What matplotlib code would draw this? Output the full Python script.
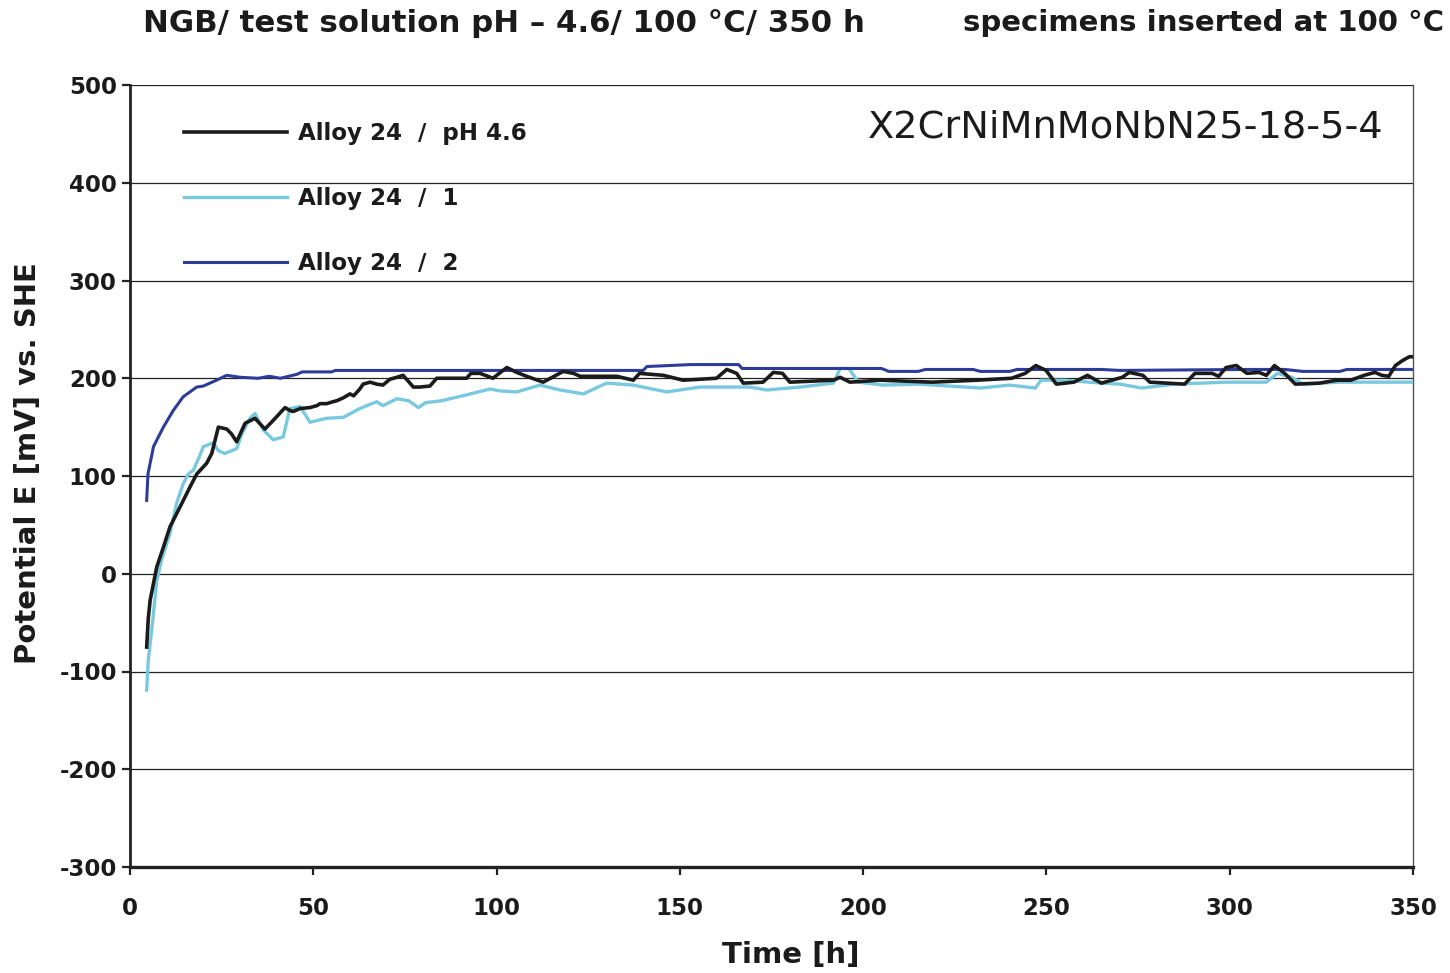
import matplotlib
matplotlib.use("Agg")
import matplotlib.pyplot as plt
from matplotlib.lines import Line2D

plt.rcParams['font.family'] = ['DejaVu Sans']
plt.rcParams['axes.unicode_minus'] = False

# ---------------- data ----------------
black_t = [4.55, 5.0, 5.5, 7.3, 9.1, 10.9, 13.6, 16.4, 18.2, 20.9, 22.3, 24.1, 26.4, 27.7, 29.1,
           31.4, 34.1, 36.8, 39.1, 42.3, 43.6, 44.5, 46.4, 49.1, 51, 51.8, 53.6, 55.4, 56.4, 58.2,
           60, 61, 62.7, 63.6, 65.5, 67.3, 69, 70.9, 72.8, 74.5,
           77.3, 79, 81.8, 83.7, 91.8, 93, 95.5, 99, 102.8, 105.5, 108.2, 112.7, 118.2, 121, 122.8,
           132.8, 137.3, 139, 145.5, 150.9, 160, 162.8, 165.5, 167.3, 172.7, 175.5, 178, 180, 191.9,
           193.7, 196.4, 204.6, 218.8, 231, 240.5, 244.2, 247.1, 249.9, 252.7, 257.5, 261.2, 265,
           270.7, 272.6, 276.3, 278.2, 287.7, 290.5, 295.2, 297, 299, 301.8, 304.7, 308, 310, 312.2,
           315, 317.9, 324.5, 329.2, 333, 336.7, 339.6, 341.5, 343.4, 345.2, 347.1, 349, 350]
black_e = [-75, -45, -27, 7, 27, 48, 68, 89, 102, 113, 123, 150, 148, 143, 135,
           154, 159, 148, 157, 170, 167, 166, 169, 170, 172, 174, 174, 176, 177, 180,
           184, 182, 189, 194, 196, 194, 193, 199, 201, 203,
           191, 191, 192, 200, 200, 205, 205, 200, 211, 206, 202, 196, 207, 205, 202,
           202, 198, 205, 203, 198, 200, 209, 205, 195, 196, 206, 205, 196, 198,
           201, 196, 198, 196, 198, 200, 205, 213, 208, 194, 196, 203, 195,
           201, 206, 203, 196, 194, 205, 205, 202, 211, 213, 205, 206, 203, 213,
           205, 194, 195, 198, 198, 203, 206, 203, 202, 213, 218, 222, 222]

cyan_t = [4.55, 5.0, 6.2, 7.3, 8.6, 10.9, 12.7, 14.5, 15.9, 17.3, 18.6, 20, 22.7, 24.1, 25.9,
          29.1, 30.5, 32.7, 34.1, 36.4, 39.1, 41.8, 43.6, 46.4, 49.1, 53.6, 58.2, 62.7, 67.3, 69,
          72.8, 76, 78.7, 80.6, 85, 91.8, 98.2, 101, 105.5, 111.8, 117.3, 123.7, 130, 137.3, 146.4,
          155.5, 169, 173.7, 182.8, 191.9, 193.7, 196.1, 198.7, 205.5, 215, 232, 240, 247, 248.5,
          255, 265, 270, 276, 285, 299, 310, 313, 317, 320, 330, 350]
cyan_e = [-119, -88, -48, -7, 14, 41, 72, 92, 102, 106, 117, 130, 134, 126, 123,
          128, 143, 159, 164, 147, 137, 140, 169, 171, 155, 159, 160, 169, 176, 172,
          179, 177, 170, 175, 177, 183, 189, 187, 186, 193, 188, 184, 195, 193, 186,
          191, 191, 188, 191, 195, 210, 210, 196, 193, 194, 190, 193, 190, 198,
          198, 195, 194, 190, 194, 196, 196, 205, 201, 194, 196, 196]

blue_t = [4.55, 4.9, 6.4, 9.1, 11.8, 14.5, 18.2, 20, 23.6, 26.4, 30, 35, 38, 41, 45.5, 47, 55, 56,
          140, 141, 153, 166, 167, 205, 207, 215, 217, 230, 232, 240, 242, 265, 270, 305, 315, 320,
          330, 332, 350]
blue_e = [75, 102, 130, 150, 167, 181, 191, 192, 198, 203, 201, 200, 202, 200, 204, 206.5, 206.5, 208,
          208, 212, 214, 214, 210, 210, 207, 207, 209, 209, 207, 207, 209, 209, 208, 209, 209, 207,
          207, 209, 209]

series_labels = ["Alloy 24  /  pH 4.6", "Alloy 24  /  1", "Alloy 24  /  2"]
x_ticks = [0, 50, 100, 150, 200, 250, 300, 350]
y_ticks = [-300, -200, -100, 0, 100, 200, 300, 400, 500]

c_black = "#1b1b1b"
c_cyan = "#78c9df"
c_blue = "#2d3c98"

# ---------------- figure ----------------
fig = plt.figure(figsize=(14.5, 9.73), dpi=100)
ax = fig.add_axes([130 / 1450, 1 - 867 / 973, (1413 - 130) / 1450, (867 - 85) / 973])

ax.plot(cyan_t, cyan_e, color=c_cyan, lw=2.4, zorder=3)
ax.plot(blue_t, blue_e, color=c_blue, lw=2.2, zorder=4)
ax.plot(black_t, black_e, color=c_black, lw=2.6, zorder=5)

ax.set_xlim(0, 350)
ax.set_ylim(-300, 500)
ax.set_xticks(x_ticks)
ax.set_yticks(y_ticks)
ax.yaxis.grid(True, color="#222222", lw=0.9)
ax.set_axisbelow(True)

ax.spines["top"].set_visible(False)
ax.spines["right"].set_color("#555555")
ax.spines["right"].set_linewidth(1.0)
ax.spines["left"].set_color("#222222")
ax.spines["left"].set_linewidth(2.0)
ax.spines["bottom"].set_color("#222222")
ax.spines["bottom"].set_linewidth(2.4)

ax.tick_params(axis="y", direction="out", length=5.5, width=1.6, color="#222222", pad=4,
               labelsize=16.5, labelcolor="#1b1b1b")
ax.tick_params(axis="x", direction="out", length=5.5, width=1.6, color="#222222", pad=16,
               labelsize=16.5, labelcolor="#1b1b1b")
for lab in ax.get_xticklabels() + ax.get_yticklabels():
    lab.set_fontweight("bold")

ax.set_xlabel("Time [h]", fontsize=21, fontweight="bold", color="#1b1b1b")
ax.xaxis.set_label_coords((791 - 130) / 1283, -(955 - 867) / 782)
ax.xaxis.label.set_va("center")
ax.set_ylabel("Potential E [mV] vs. SHE", fontsize=21, fontweight="bold", color="#1b1b1b")
ax.yaxis.set_label_coords(-(130 - 28) / 1283, (867 - 463) / 782)
ax.yaxis.label.set_va("center")

handles = [Line2D([], [], color=c_black, lw=2.6),
           Line2D([], [], color=c_cyan, lw=2.4),
           Line2D([], [], color=c_blue, lw=2.2)]
leg = ax.legend(handles, series_labels, loc="upper left", bbox_to_anchor=(0.026, 0.979),
                frameon=False, handlelength=4.45, handletextpad=0.5, labelspacing=1.82,
                prop={"weight": "bold", "size": 16.6})
for t in leg.get_texts():
    t.set_color("#1b1b1b")

ax.text((1383 - 130) / 1283, (867 - 128) / 782, "X2CrNiMnMoNbN25-18-5-4", transform=ax.transAxes,
        ha="right", va="center", fontsize=27.5, color="#1b1b1b")

fig.text(143 / 1450, 1 - 23 / 973, "NGB/ test solution pH \u2013 4.6/ 100 \u00b0C/ 350 h",
         ha="left", va="center", fontsize=22.2, fontweight="bold", color="#1b1b1b")
fig.text(963 / 1450, 1 - 23 / 973, "specimens inserted at 100 \u00b0C",
         ha="left", va="center", fontsize=21, fontweight="bold", color="#1b1b1b")

fig.savefig("out.png", dpi=100, facecolor="white")
